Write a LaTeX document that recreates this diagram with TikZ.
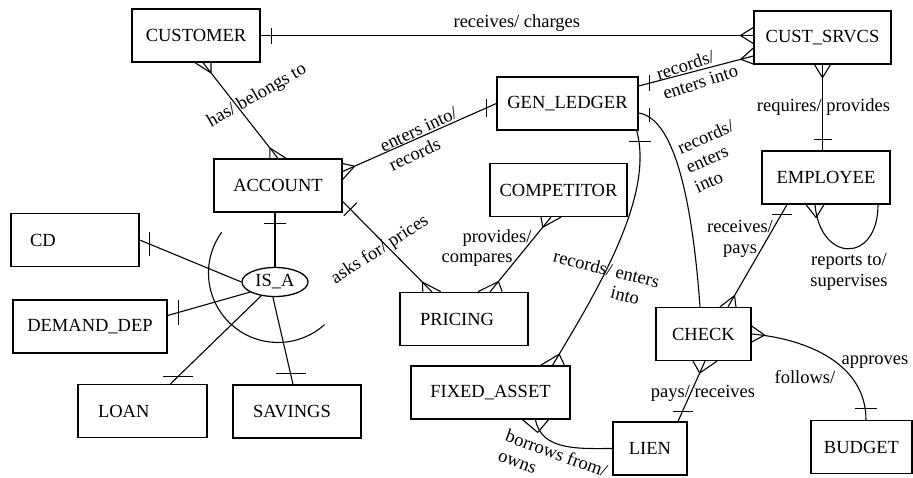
\documentclass[tikz,border=0pt]{standalone}
\usepackage{fontspec}
\setmainfont{Liberation Serif}
\usetikzlibrary{
    shapes.geometric,
    decorations.markings,
    calc
}
\newcommand{\erfont}{\fontsize{18.5}{21}\selectfont}
\tikzset{
    ent/.style={draw, line width=1.3pt, minimum height=53pt, inner sep=2pt, font=\erfont},
    isa/.style={draw, ellipse, line width=1.3pt, minimum width=66pt, minimum height=29pt, inner sep=0pt, font=\erfont},
    conn/.style={line width=1.1pt},
    lbl/.style={font=\erfont, inner sep=1pt},
    many start/.style 2 args={postaction={decorate, decoration={markings, mark=at position 0 with
        {\coordinate (cf) at (13pt,0); \pgftransformresetnontranslations
         \draw[conn] (cf) -- (#1,#2) (cf) -- (-#1,-#2);}}}},
    many end/.style 2 args={postaction={decorate, decoration={markings, mark=at position 1 with
        {\coordinate (cf) at (-13pt,0); \pgftransformresetnontranslations
         \draw[conn] (cf) -- (#1,#2) (cf) -- (-#1,-#2);}}}},
    zmany end/.style 2 args={postaction={decorate, decoration={markings, mark=at position 1 with
        {\coordinate (cf) at (-12pt,0); \coordinate (zc) at (-19pt,0); \pgftransformresetnontranslations
         \draw[conn] (cf) -- (#1,#2) (cf) -- (-#1,-#2) (zc) circle[radius=6.5pt];}}}},
    one start/.style 2 args={postaction={decorate, decoration={markings, mark=at position 0 with
        {\coordinate (cf) at (11pt,0); \pgftransformresetnontranslations
         \draw[conn] ([shift={(-#1,-#2)}]cf) -- ([shift={(#1,#2)}]cf);}}}},
    one end/.style 2 args={postaction={decorate, decoration={markings, mark=at position 1 with
        {\coordinate (cf) at (-11pt,0); \pgftransformresetnontranslations
         \draw[conn] ([shift={(-#1,-#2)}]cf) -- ([shift={(#1,#2)}]cf);}}}}
}
\begin{document}
\begin{tikzpicture}[x=1pt, y=1pt]
\useasboundingbox (0,0) rectangle (913,-477);
\node[ent, minimum width=128pt] (cu) at (196,-35.5) {CUSTOMER};
\node[ent, minimum width=137pt] (cs) at (822.5,-37.5) {CUST\_SRVCS};
\node[ent, minimum width=141pt] (gl) at (567.5,-103.5) {GEN\_LEDGER};
\node[ent, minimum width=128pt] (ac) at (278,-185.5) {ACCOUNT};
\node[ent, minimum width=137pt] (co) at (558.5,-190) {COMPETITOR};
\node[ent, minimum width=128pt] (em) at (826,-177.5) {EMPLOYEE};
\node[ent, text width=90pt, inner xsep=19pt, align=left] (cd) at (75,-240) {CD};
\node[ent, minimum width=154pt] (dd) at (90,-326.5) {DEMAND\_DEP};
\node[isa] (isa) at (275,-282) {IS\_A};
\node[ent, text width=88pt, inner xsep=20pt, align=left] (pr) at (464,-319) {PRICING};
\node[ent, minimum width=95pt] (ck) at (703.5,-334) {CHECK};
\node[ent, minimum width=159pt] (fa) at (490.5,-392.5) {FIXED\_ASSET};
\node[ent, text width=89pt, inner xsep=20pt, align=left] (lo) at (142.5,-411) {LOAN};
\node[ent, text width=88pt, inner xsep=20pt, align=left] (sv) at (297,-411.5) {SAVINGS};
\node[ent, minimum width=74pt] (ln) at (650,-448.5) {LIEN};
\node[ent, minimum width=101pt] (bu) at (861.5,-447) {BUDGET};

\draw[conn, one start={0pt}{8pt}, many end={0pt}{8pt}] (cu.east) -- (cu.east -| cs.west)
    node[lbl, pos=0.52, above=2pt] (l-cucs) {receives/ charges};
\draw[conn, many start={8pt}{0pt}, many end={8pt}{0pt}] ([xshift=7pt]cu.south) -- (ac.north);
\draw[conn, many start={0pt}{8pt}, one end={0pt}{9pt}] ([yshift=14pt]ac.east) -- (gl.west);
\draw[conn, one start={11pt}{0pt}] (ac.south -| isa.north) -- (isa.north);
\draw[conn, one start={0pt}{12pt}] (cd.east) -- (isa.west);
\draw[conn, one start={0pt}{12pt}] ([yshift=11pt]dd.east) -- (isa.202);
\draw[conn, one start={15pt}{0pt}] ([xshift=28pt]lo.north) -- (isa.225);
\draw[conn, one start={15pt}{0pt}] ([xshift=-4pt]sv.north) -- (isa.262);
\draw[conn] (278,-273) ++(144:69.5) arc[start angle=144, end angle=312, radius=69.5];
\draw[conn, one start={6.5pt}{6.5pt}, many end={9pt}{0pt}] ([yshift=-16pt]ac.east) -- ([xshift=-32pt]pr.north);
\draw[conn, many start={10pt}{0pt}, many end={12pt}{0pt}] ([xshift=-7.5pt]co.south) -- ([xshift=26pt]pr.north);
\draw[conn, one start={0pt}{8pt}, many end={0pt}{8pt}] ([yshift=17.5pt]gl.east) -- ([yshift=-18.5pt]cs.west);
\draw[conn, one start={11pt}{0pt}, many end={12pt}{0pt}] ([xshift=-2pt]gl.south east) .. controls +(18,-65) and +(45,75) .. ([xshift=62pt]fa.north);
\draw[conn, one start={0pt}{7pt}, many end={9pt}{0pt}] ([yshift=-9.5pt]gl.east) .. controls +(35,-5) and +(-8,110) .. ([xshift=-3.5pt]ck.north);
\draw[conn, many start={8pt}{0pt}, one end={9pt}{0pt}] (cs.south) -- (cs.south |- em.north);
\draw[conn, many start={9pt}{0pt}, one end={9pt}{0pt}] ([xshift=-11pt]em.south) to[out=-85, in=-90, looseness=2.4] ([xshift=52pt]em.south);
\draw[conn, one start={10pt}{0pt}, many end={8pt}{0pt}] ([xshift=-39pt]em.south) -- ([xshift=24.5pt]ck.north);
\draw[conn, many start={12pt}{0pt}, one end={10pt}{0pt}] ([xshift=1.5pt]ck.south) -- ([xshift=28pt]ln.north);
\draw[conn, many start={0pt}{8pt}, one end={11pt}{0pt}] (ck.east) to[out=-5, in=90] ([xshift=4.5pt]bu.north);
\draw[conn, many start={13pt}{0pt}, zmany end={0pt}{10pt}] ([xshift=45pt]fa.south) to[out=-80, in=180] (ln.west);

\node[lbl, rotate=30] (l-cuac) at (257,-96) {has/ belongs to};
\node[lbl, rotate=25, align=left] (l-acgl) at (423,-139) {enters into/\\records};
\node[lbl, rotate=33] (l-acpr) at (380,-250) {asks for/ prices};
\node[lbl] (l-copr1) at (497,-238) {provides/};
\node[lbl] (l-copr2) at (477,-260) {compares};
\node[lbl, rotate=18, align=left] (l-glcs) at (697,-72) {records/\\enters into};
\node[lbl, rotate=24, align=left] (l-glck) at (714,-156) {records/\\enters\\into};
\node[lbl, rotate=-14, align=left] (l-glfa) at (604,-279) {records/ enters\\\hphantom{records/ }into};
\node[lbl] (l-csem) at (823.5,-107) {requires/ provides};
\node[lbl, align=center] (l-emck) at (740,-239) {receives/\\pays};
\node[lbl, align=center] (l-emem) at (849,-272) {reports to/\\supervises};
\node[lbl] (l-ckln) at (703,-393) {pays/ receives};
\node[lbl] (l-ckbu1) at (805,-377) {follows/};
\node[lbl] (l-ckbu2) at (875,-362) {approves};
\node[lbl, rotate=-20, align=left] (l-faln) at (553,-463) {borrows from/\\owns};
\end{tikzpicture}
\end{document}
